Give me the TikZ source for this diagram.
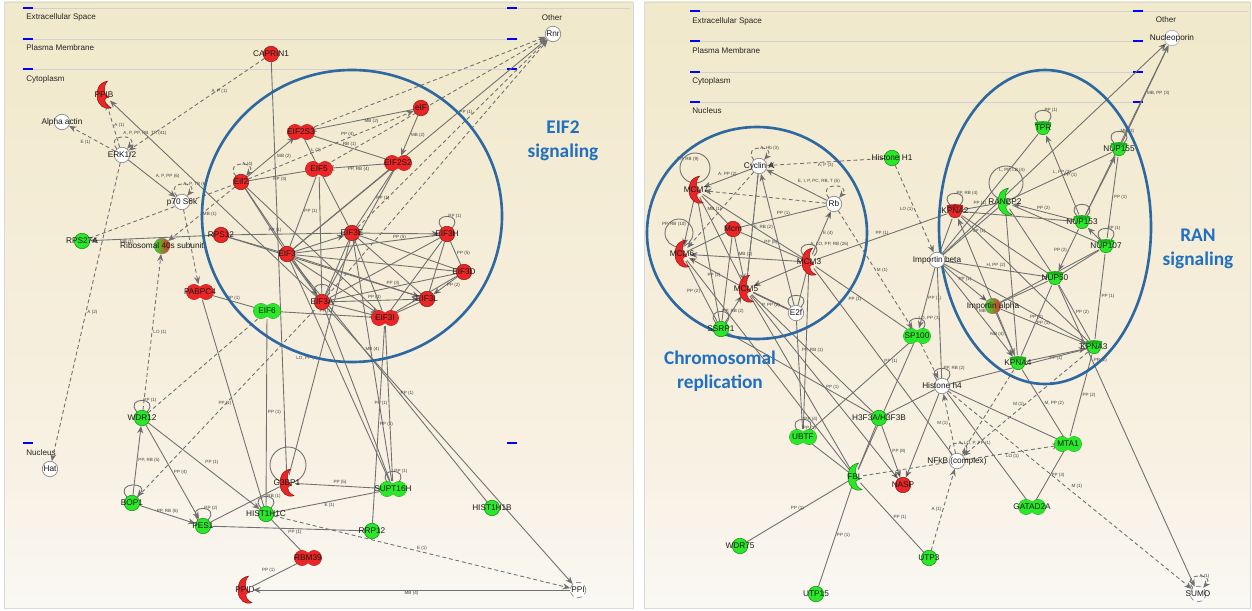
\documentclass[tikz,border=0pt]{standalone}
\usepackage{fontspec}
\setmainfont{Liberation Sans}
\newfontfamily\calib{Carlito}
\usetikzlibrary{arrows.meta}
\pgfdeclarelayer{bg}
\pgfdeclarelayer{edges}
\pgfsetlayers{bg,edges,main}

\definecolor{upred}{RGB}{236,38,38}
\definecolor{dngreen}{RGB}{40,232,40}
\definecolor{ringblue}{RGB}{46,104,160}
\definecolor{txtblue}{RGB}{33,112,192}
\definecolor{lnkgray}{RGB}{112,112,112}
\definecolor{bgtop}{RGB}{235,228,186}
\definecolor{bgmid}{RGB}{248,240,226}
\definecolor{bgbot}{RGB}{250,250,247}
\pgfdeclareverticalshading{panelbg}{100bp}{color(0bp)=(bgbot); color(22bp)=(bgbot); color(38bp)=(bgmid); color(100bp)=(bgtop)}

\tikzset{
    hub/.style={circle, minimum size=0.31cm, inner sep=0pt},
    gene/.style={hub, fill=#1, draw=#1!60!black, line width=0.3pt},
    other/.style={hub, fill=white, draw=black!45, line width=0.4pt},
    guess/.style={other, densely dashed},
    mixed/.style={hub, left color=dngreen, right color=upred, draw=black!50, line width=0.3pt},
    lab/.style={font=\fontsize{4.7}{5}\selectfont, inner sep=0pt, text=black!90},
    lnk/.style={draw=lnkgray, line width=0.5pt},
    pred/.style={lnk, dash pattern=on 2.2pt off 1.6pt},
    elab/.style={font=\fontsize{2.6}{3}\selectfont, inner sep=0.6pt, text=black!75},
    curl/.style={out=130, in=50, min distance=0.4cm},
    cmp/.style={font=\fontsize{4.6}{5}\selectfont, anchor=west, inner sep=0pt, text=black!85},
    cline/.style={draw=black!18, line width=0.5pt},
    bmark/.style={draw=blue, line width=0.9pt},
    tag/.style={font=\calib\bfseries\fontsize{11}{13.6}\selectfont, text=txtblue, align=center},
    ring/.style={draw=ringblue, line width=1.5pt},
    >={Stealth[length=4.2pt, width=3.4pt]}
}

% two-lobed molecule
\newcommand\pairnode[4]{%
    \filldraw[#4, draw=#4!60!black, line width=0.3pt, shift={(#2)}] (-6,0) circle [radius=7.5] (6,0) circle [radius=7.5];
    \fill[#4, shift={(#2)}] (-6,0) circle [radius=7.5] (6,0) circle [radius=7.5];
    \node[hub, label={[lab]center:#3}] (#1) at (#2) {};
}
% enzyme
\newcommand\enzymenode[4]{%
    \filldraw[#4, draw=#4!60!black, line width=0.3pt, shift={(#2)}, scale=1.15] (3,-12) .. controls (-5,-11) and (-7,-3) .. (-6,2)
        .. controls (-5,9) and (0,13) .. (6,11) .. controls (2,9) and (0,6) .. (1,3) -- (4,2) -- (1,-1)
        .. controls (0,-5) and (0,-9) .. (3,-12) -- cycle;
    \node[hub, label={[lab]center:#3}] (#1) at (#2) {};
}
% transporter
\newcommand\portnode[4]{%
    \filldraw[#4, draw=#4!60!black, line width=0.3pt, shift={(#2)}] (-8,-5) -- (8,-5) -- (6,3) .. controls (5,8) and (-5,8) .. (-6,3) -- cycle;
    \fill[#4!75!black, shift={(#2)}] (0,-5) ellipse [x radius=8, y radius=1.8];
    \node[hub, label={[lab]center:#3}] (#1) at (#2) {};
}

\begin{document}
\begin{tikzpicture}[x=0.02cm, y=-0.02cm]
    \useasboundingbox (0,0) rectangle (1252,611);

    % panels and compartments
    \begin{pgfonlayer}{bg}
        \shade[shading=panelbg] (4,2) rectangle (633,608);
        \shade[shading=panelbg] (644,2) rectangle (1250,608);
        \draw[black!15] (4,2) rectangle (633,608) (644,2) rectangle (1250,608);
        \draw[cline] (22,8) -- (630,8) (22,39) -- (518,39) (22,69) -- (518,69);
        \draw[cline] (690,11) -- (1248,11) (690,41) -- (1143,41) (690,72) -- (1143,72) (690,102) -- (1143,102);
        \draw[bmark] (23,8) -- (33,8) (23,39) -- (33,39) (23,69) -- (33,69) (23,443) -- (33,443);
        \draw[bmark] (507,8) -- (517,8) (507,39) -- (517,39) (507,69) -- (517,69) (507,443) -- (517,443);
        \draw[bmark] (690,11) -- (700,11) (690,41) -- (700,41) (690,72) -- (700,72) (690,102) -- (700,102);
        \draw[bmark] (1133,11) -- (1143,11) (1133,41) -- (1143,41) (1133,72) -- (1143,72) (1133,102) -- (1143,102);
        \node[cmp] (ecs1) at (26,17) {Extracellular Space};
        \node[cmp] (pm1) at (26,48) {Plasma Membrane};
        \node[cmp] (cyt1) at (26,79) {Cytoplasm};
        \node[cmp] (nuc1) at (26,453) {Nucleus};
        \node[cmp, anchor=center] (oth1) at (552,18) {Other};
        \node[cmp] (ecs2) at (692,21) {Extracellular Space};
        \node[cmp] (pm2) at (692,51) {Plasma Membrane};
        \node[cmp] (cyt2) at (692,81) {Cytoplasm};
        \node[cmp] (nuc2) at (692,111) {Nucleus};
        \node[cmp, anchor=center] (oth2) at (1166,20) {Other};
    \end{pgfonlayer}

    % highlighted groups
    \draw[ring] (352,216) ellipse [x radius=150, y radius=146];
    \draw[ring] (757,233) ellipse [x radius=110, y radius=106];
    \draw[ring] (1045,227) ellipse [x radius=106, y radius=157];
    \node[tag] (tag1) at (563,141) {EIF2\\signaling};
    \node[tag] (tag2) at (720,371) {Chromosomal\\replication};
    \node[tag] (tag3) at (1198,249) {RAN\\signaling};

    % left network
    \node[gene=upred, label={[lab]center:CAPRIN1}] (caprin) at (271,54) {};
    \enzymenode{ppib}{104,95}{PPIB}{upred}
    \node[other, label={[lab]center:Alpha actin}] (actin) at (62,122) {};
    \node[other, label={[lab]center:ERK1/2}] (erk) at (122,155) {};
    \node[other, label={[lab]center:p70 S6k}] (s6k) at (182,202) {};
    \node[gene=dngreen, label={[lab]center:RPS27A}] (rps27a) at (82,241) {};
    \node[mixed, label={[lab]center:Ribosomal 40s subunit}] (rib) at (162,246) {};
    \pairnode{pabpc4}{200,292}{PABPC4}{upred}
    \node[gene=upred, label={[lab]center:Eif2}] (eif2) at (241,182) {};
    \pairnode{eif2s3}{301,132}{EIF2S3}{upred}
    \pairnode{eif5}{319,169}{EIF5}{upred}
    \node[gene=upred, label={[lab]center:eIF}] (eif) at (421,108) {};
    \pairnode{eif2s2}{398,163}{EIF2S2}{upred}
    \node[gene=upred, label={[lab]center:RPS12}] (rps12) at (221,235) {};
    \node[gene=upred, label={[lab]center:EIF3}] (eif3) at (287,254) {};
    \node[gene=upred, label={[lab]center:EIF3E}] (eif3e) at (352,233) {};
    \node[gene=upred, label={[lab]center:EIF3H}] (eif3h) at (447,234) {};
    \node[gene=upred, label={[lab]center:EIF3D}] (eif3d) at (464,272) {};
    \node[gene=upred, label={[lab]center:EIF3A}] (eif3a) at (322,302) {};
    \node[gene=upred, label={[lab]center:EIF3L}] (eif3l) at (427,299) {};
    \pairnode{eif3i}{385,318}{EIF3I}{upred}
    \pairnode{eif6}{267,311}{EIF6}{dngreen}
    \node[gene=dngreen, label={[lab]center:WDR12}] (wdr12) at (142,418) {};
    \node[other, label={[lab]center:Hat}] (hat) at (50,469) {};
    \node[gene=dngreen, label={[lab]center:BOP1}] (bop1) at (132,503) {};
    \node[gene=dngreen, label={[lab]center:PES1}] (pes1) at (203,526) {};
    \node[gene=dngreen, label={[lab]center:HIST1H1C}] (h1c) at (266,514) {};
    \enzymenode{g3bp1}{287,483}{G3BP1}{upred}
    \pairnode{rbm39}{308,558}{RBM39}{upred}
    \enzymenode{ppid}{245,590}{PPID}{upred}
    \pairnode{supt16h}{393,489}{SUPT16H}{dngreen}
    \node[gene=dngreen, label={[lab]center:RRP12}] (rrp12) at (372,531) {};
    \node[gene=dngreen, label={[lab]center:HIST1H1B}] (h1b) at (492,508) {};
    \node[guess, label={[lab]center:PPI}] (ppi) at (578,590) {};
    \node[other, label={[lab]center:Rnr}] (rnr) at (553,34) {};

    % right network
    \node[other, label={[lab]center:Cyclin A}] (cyca) at (759,166) {};
    \enzymenode{mcm7}{696,190}{MCM7}{upred}
    \node[other, label={[lab]center:Rb}] (rb) at (834,204) {};
    \node[gene=dngreen, label={[lab]center:Histone H1}] (hh1) at (892,158) {};
    \node[gene=upred, label={[lab]center:Mcm}] (mcm) at (733,229) {};
    \enzymenode{mcm6}{682,254}{MCM6}{upred}
    \enzymenode{mcm3}{809,262}{MCM3}{upred}
    \enzymenode{mcm5}{746,289}{MCM5}{upred}
    \node[other, label={[lab]center:E2f}] (e2f) at (796,313) {};
    \node[gene=dngreen, label={[lab]center:SSRP1}] (ssrp1) at (721,329) {};
    \node[other, label={[lab]center:Importin beta}] (impb) at (937,260) {};
    \portnode{kpna2}{955,211}{KPNA2}{upred}
    \enzymenode{ranbp2}{1005,202}{RANBP2}{dngreen}
    \portnode{tpr}{1043,128}{TPR}{dngreen}
    \portnode{nup155}{1119,149}{NUP155}{dngreen}
    \portnode{nup153}{1082,222}{NUP153}{dngreen}
    \portnode{nup107}{1106,246}{NUP107}{dngreen}
    \portnode{nup50}{1055,278}{NUP50}{dngreen}
    \node[mixed, label={[lab]center:Importin alpha}] (impa) at (993,306) {};
    \portnode{kpna3}{1094,347}{KPNA3}{dngreen}
    \portnode{kpna4}{1018,363}{KPNA4}{dngreen}
    \pairnode{sp100}{917,336}{SP100}{dngreen}
    \node[other, label={[lab]center:Histone h4}] (hh4) at (942,386) {};
    \node[gene=dngreen, label={[lab]center:H3F3A/H3F3B}] (h3f3) at (879,418) {};
    \pairnode{ubtf}{803,437}{UBTF}{dngreen}
    \enzymenode{fbl}{855,477}{FBL}{dngreen}
    \node[gene=upred, label={[lab]center:NASP}] (nasp) at (903,485) {};
    \node[other, label={[lab]center:NFkB (complex)}] (nfkb) at (957,461) {};
    \pairnode{mta1}{1068,444}{MTA1}{dngreen}
    \pairnode{gatad2a}{1032,507}{GATAD2A}{dngreen}
    \node[gene=dngreen, label={[lab]center:WDR75}] (wdr75) at (740,546) {};
    \node[gene=dngreen, label={[lab]center:UTP15}] (utp15) at (816,594) {};
    \node[gene=dngreen, label={[lab]center:UTP3}] (utp3) at (929,558) {};
    \node[guess, label={[lab]center:SUMO}] (sumo) at (1198,594) {};
    \node[other, draw=black!30, label={[lab]center:Nucleoporin}] (nucp) at (1172,38) {};

    \begin{pgfonlayer}{edges}
    % left: around the ring
    \draw[pred,->] (caprin) -- node[elab,pos=.4,above right]{A, P (1)} (erk);
    \draw[pred,->] (erk) -- node[elab,below left]{E (1)} (actin);
    \draw[pred,->] (erk) -- node[elab,right]{A (1)} (ppib);
    \draw[pred,->] (erk) -- node[elab,pos=.5,right]{A (2)} (hat);
    \draw[pred,->] (erk) to[curl] node[elab,above right]{A, P, PP, RB, TR (41)} (erk);
    \draw[lnk,->] (erk) -- node[elab,pos=.55,above right]{A, P, PP (6)} (s6k);
    \draw[pred,->] (s6k) to[curl] node[elab,right]{A, P, TR (6)} (s6k);
    \draw[pred,->] (s6k) -- (pabpc4);
    \draw[pred] (rps27a) -- (eif2);
    \draw[pred,->] (eif2) -- node[elab,right]{MB (1)} (rib);
    \draw[lnk,->] (rps12) -- node[elab,pos=.7,below]{MB (1)} (rps27a);
    \draw[lnk,->] (eif3a) -- (ppib);
    \draw[pred,->] (wdr12) -- node[elab,right]{LO (1)} (rib);
    \draw[pred] (wdr12) -- (eif6);
    \draw[pred] (bop1) -- (eif3a);

    % left: EIF2 and EIF3 complexes
    \draw[lnk,->] (eif) -- node[elab,pos=.4,below]{MB (2)} (eif2s3);
    \draw[lnk,->] (eif) -- node[elab,right]{MB (2)} (eif2s2);
    \draw[lnk,->] (eif2) -- node[elab,pos=.6,below right]{MB (2)} (eif2s3);
    \draw[lnk] (eif2) -- node[elab,below]{PP (3)} (eif5);
    \draw[pred,->] (eif2) to[curl] node[elab,right]{A (4)} (eif2);
    \draw[lnk] (eif2s3) -- node[elab,above]{RB (1)} (eif2s2);
    \draw[lnk] (eif2s3) -- node[elab,right]{L (1)} (eif5);
    \draw[lnk,->] (eif2s2) -- node[elab,below]{PP, RB (4)} (eif5);
    \draw[pred,->] (eif2) -- node[elab,pos=.6,above]{PP (4)} (eif);
    \draw[pred,->] (eif2s3) -- (rnr);
    \draw[pred,->] (eif5) -- (rnr);
    \draw[pred,->] (eif3e) -- (rnr);
    \draw[pred,->] (eif3a) -- (rnr);
    \draw[lnk,->] (eif3) -- node[elab,pos=.65,right]{PP (1)} (rnr);
    \draw[lnk] (eif2) edge (eif3) edge (eif3a) edge (eif3i);
    \draw[lnk] (eif5) edge node[elab,right]{PP (1)} (eif3) edge (eif3e) edge (eif3a);
    \draw[lnk] (eif2s2) edge (eif3a) edge (eif3) edge node[elab,right]{PP (1)} (eif3e);
    \draw[lnk] (caprin) -- (g3bp1);
    \draw[lnk] (rps12) edge node[elab,above,pos=.4]{PP (1)} (eif3e) edge (eif3) edge (eif3l);
    \draw[lnk] (eif3) edge[->] (eif3e) edge (eif3h) edge (eif3d) edge[->] (eif3a) edge[->] (eif3l) edge[->] (eif3i);
    \draw[lnk] (eif3e) edge[->] node[elab,below]{PP (5)} (eif3h) edge (eif3d) edge (eif3l) edge (eif3i) edge (eif3a);
    \draw[lnk] (eif3h) edge node[elab,right]{PP (5)} (eif3d) edge (eif3l) edge (eif3a) edge (eif3i);
    \draw[lnk] (eif3h) to[curl] node[elab,right]{PP (1)} (eif3h);
    \draw[lnk] (eif3d) edge[->] node[elab,right]{PP (2)} (eif3l) edge node[elab,above]{PP (3)} (eif3a) edge (eif3i);
    \draw[lnk] (eif3a) edge[->] node[elab,above]{PP (3)} (eif3l) edge[->] (eif3i);
    \draw[lnk] (eif3a) to[curl] (eif3a);
    \draw[lnk] (eif3l) -- (eif3i);
    \draw[lnk] (pabpc4) edge node[elab,above]{PP (1)} (eif6) edge node[elab,left]{PP (1)} (h1c);
    \draw[lnk] (eif6) edge node[elab,above]{PP (1)} (eif3i) edge node[elab,right]{PP (1)} (h1c);

    % left: nucleolar proteins
    \draw[lnk,->] (bop1) -- node[elab,right]{PP, RB (5)} (wdr12);
    \draw[lnk,->] (wdr12) -- node[elab,right]{PP (4)} (pes1);
    \draw[lnk,->] (wdr12) -- node[elab,above right]{PP (1)} (h1c);
    \draw[lnk,->] (bop1) -- node[elab,above]{PP, RB (6)} (pes1);
    \draw[lnk] (wdr12) to[curl] node[elab,right]{PP (1)} (wdr12);
    \draw[lnk,->] (bop1) to[curl] (bop1);
    \draw[lnk] (pes1) to[curl] node[elab,right]{PP (2)} (pes1);
    \draw[lnk] (h1c) to[curl] node[elab,right]{RB (1)} (h1c);
    \draw[lnk] (supt16h) to[curl] node[elab,right]{PP (1)} (supt16h);
    \draw[lnk] (g3bp1.center) ++(1,-18) circle [radius=18];
    \draw[lnk] (pes1) edge (g3bp1) edge (rrp12);
    \draw[lnk] (g3bp1) edge node[elab,above]{PP (5)} (supt16h) edge node[elab,left]{LO, PP (3)} (eif3e);
    \draw[lnk] (h1c) edge node[elab,below]{E (1)} (supt16h) edge node[elab,above right]{PP (1)} (rbm39);
    \draw[pred,->] (h1c) -- node[elab,above]{E (1)} (ppi);
    \draw[lnk] (rbm39) -- node[elab,above left]{PP (1)} (ppid);
    \draw[lnk,->] (ppi) -- node[elab,below]{MB (4)} (ppid);
    \draw[lnk,->] (eif3a) -- node[elab,pos=.15,right]{MB (4)} (ppi);
    \draw[lnk] (eif3) -- node[elab,pos=.55,right]{PP (1)} (h1b);
    \draw[lnk] (supt16h) edge node[elab,left]{PP (1)} (eif3i) edge (eif3a) edge (eif3e) edge (eif3);
    \draw[lnk] (rrp12) -- node[elab,right]{PP (1)} (eif3i);

    % right: chromosomal replication
    \draw[pred,->] (hh1) -- node[elab,below]{A, P (3)} (cyca);
    \draw[pred,->] (hh1) -- node[elab,left]{LO (1)} (impb);
    \draw[pred,->] (rb) -- (mcm7);
    \draw[pred,->] (cyca) -- (mcm6);
    \draw[pred] (cyca) -- node[elab,right]{E, RB (2)} (mcm5);
    \draw[pred,->] (cyca) to[curl] node[elab,right]{A, Hb (3)} (cyca);
    \draw[pred,->] (rb) to[curl] (rb);
    \draw[lnk,->] (rb) -- node[elab,above right]{E, I, P, PC, RB, T (6)} (cyca);
    \draw[lnk,->] (cyca) -- node[elab,above]{A, PP (2)} (mcm7);
    \draw[lnk,->] (e2f) -- (cyca);
    \draw[lnk] (mcm5) -- (cyca);
    \draw[lnk] (mcm7.center) ++(-1,-22) circle [radius=15];
    \node[elab] (mcm7l) at (688,159) {PP, RB (9)};
    \draw[lnk] (mcm6.center) ++(-3,-21) circle [radius=14];
    \node[elab] (mcm6l) at (674,224) {PP, RB (10)};
    \draw[lnk] (mcm) edge node[elab]{MB (1)} (mcm7) edge (mcm6) edge node[elab,above]{PP (8)} (mcm3) edge[->] (mcm5) edge node[elab,above]{PP (1)} (rb) edge (ssrp1);
    \draw[lnk] (mcm7) edge[->] (mcm6) edge (mcm3) edge (mcm5) edge (ssrp1);
    \draw[lnk] (mcm3) edge[->] node[elab,above]{MB (2)} (mcm6) edge[->] (mcm5) edge (e2f) edge[->] node[elab,right]{E (4)} (rb);
    \draw[lnk] (mcm3) to[curl] node[elab,right]{A, LO, PP, RB (26)} (mcm3);
    \draw[lnk] (mcm5) edge[->] node[elab,below]{PP (2)} (mcm6) edge[line width=0.9pt] node[elab,below]{P, PP (2)} (e2f);
    \draw[lnk] (ssrp1) edge[->] (mcm5) edge node[elab,left]{PP (2)} (mcm6);
    \draw[lnk] (ssrp1) to[curl] node[elab,right]{PP, RB (2)} (ssrp1);
    \draw[lnk] (e2f) to[curl] (e2f);
    \draw[lnk] (mcm3) edge node[elab,above]{PP (1)} (kpna2) edge node[elab,left]{PP (1)} (sp100) edge node[elab,right]{PP (1)} (nfkb) edge (ubtf);
    \draw[lnk] (e2f) -- (ubtf);
    \draw[lnk] (mcm5) edge node[elab,above]{PP, RB (1)} (h3f3) edge[->] node[elab,right]{PP (1)} (nasp) edge (fbl);
    \draw[lnk] (ssrp1) -- (h3f3);
    \draw[lnk] (mcm6) -- node[elab,pos=.8,left]{PP (1)} (fbl);

    % right: nucleus and nuclear pore
    \draw[pred,->] (rb) -- node[elab,right]{M (1)} (sp100);
    \draw[pred,->] (sp100) -- (hh4);
    \draw[pred,->] (nfkb) -- node[elab,left]{M (1)} (hh4);
    \draw[pred] (fbl) -- (nfkb);
    \draw[pred,->] (nfkb) -- node[elab,below]{LO (1)} (mta1);
    \draw[pred,->] (utp3) -- node[elab,left]{A (1)} (nfkb);
    \draw[pred] (kpna4) -- (nfkb);
    \draw[pred,->] (kpna3) -- node[elab,left]{M (1)} (nfkb);
    \draw[pred,->] (nfkb) to[curl] node[elab,right]{A, LO, P, PP (1)} (nfkb);
    \draw[pred,->] (hh4) -- node[elab,above right]{M (1)} (sumo);
    \draw[pred,->] (sumo) to[curl] node[elab,right]{A (1)} (sumo);
    \draw[lnk] (ubtf) edge (fbl) edge (sp100);
    \draw[lnk] (ubtf) to[curl] node[elab,right]{PP (4)} (ubtf);
    \draw[lnk] (sp100) -- (fbl);
    \draw[lnk] (sp100) to[curl] node[elab,right]{LO, PP (3)} (sp100);
    \draw[lnk,->] (impb) -- node[elab,right]{PP (1)} (sp100);
    \draw[lnk] (impb) -- (hh4);
    \draw[lnk] (impb) edge (kpna2) edge node[elab,right]{SP (1)} (ranbp2) edge[->] node[elab,above]{PP (1)} (impa) edge node[elab,above]{H, PP (2)} (nup50) edge[->] node[elab,right]{MB (4)} (kpna4) edge (kpna3) edge (tpr) edge[->] (nucp);
    \draw[lnk] (kpna2) edge node[elab,above]{PP (1)} (ranbp2) edge (nup153) edge (kpna3) edge (nup50);
    \draw[lnk] (kpna2) to[curl] node[elab,right]{PP, RB (4)} (kpna2);
    \draw[lnk,->] (kpna4) -- (kpna2);
    \draw[lnk] (ranbp2.center) ++(1,-19) circle [radius=17];
    \node[elab] (ranbp2l) at (1012,170) {L, PP, LB (4)};
    \draw[lnk] (ranbp2) edge node[elab,above]{L, PP (2)} (nup155) edge (nup50) edge (kpna4) edge (nup107);
    \draw[lnk,->] (nup153) -- node[elab,above]{PP (2)} (ranbp2);
    \draw[lnk,->] (nup153) -- node[elab,right]{PP (1)} (tpr);
    \draw[lnk,->] (nup153) -- (nup155);
    \draw[lnk,->] (nup155) -- node[elab,right]{MB, PP (3)} (nucp);
    \draw[lnk,->] (nup153) -- (nucp);
    \draw[lnk] (tpr) to[curl] node[elab,right]{PP (1)} (tpr);
    \draw[lnk] (nup155) to[curl] node[elab,right]{MB (3)} (nup155);
    \draw[lnk] (nup153) to[curl] (nup153);
    \draw[lnk] (nup107) to[curl] node[elab,right]{PP (1)} (nup107);
    \draw[lnk] (nup155) -- node[elab,right]{PP (1)} (nup107);
    \draw[lnk,->] (nup153) -- node[elab,left]{PP (2)} (nup50);
    \draw[lnk,->] (nup107) -- (nup153);
    \draw[lnk] (nup107) edge (nup50) edge node[elab,right]{PP (1)} (kpna3) edge (impa);
    \draw[lnk] (nup50) edge node[elab,above]{PP (1)} (kpna4) edge node[elab,right]{PP (2)} (kpna3) edge (impa);
    \draw[lnk,->] (impa) -- node[elab,left]{MB (4)} (kpna4);
    \draw[lnk,->] (impa) -- node[elab,above]{PP (1)} (kpna3);
    \draw[lnk,->] (kpna4) -- node[elab,below]{PP (1)} (kpna3);
    \draw[lnk] (hh4) edge (kpna3) edge (mta1) edge (gatad2a) edge (h3f3) edge[->] (nasp);
    \draw[lnk] (hh4) to[curl] node[elab,right]{PP, RB (2)} (hh4);
    \draw[lnk] (kpna4) -- node[elab,right]{M, PP (2)} (mta1);
    \draw[lnk] (kpna3) -- node[elab,right]{PP (2)} (mta1);
    \draw[lnk] (mta1) -- node[elab,right]{PP (3)} (gatad2a);
    \draw[lnk,->] (nup50) -- node[elab,pos=.25,right]{PP (2)} (sumo);
    \draw[lnk] (h3f3) edge (fbl) edge[->] node[elab,right]{PP (8)} (nasp);
    \draw[lnk] (fbl) edge node[elab,above]{PP (1)} (wdr75) edge node[elab,right]{PP (1)} (utp15) edge node[elab,right]{PP (1)} (utp3);
    \end{pgfonlayer}
\end{tikzpicture}
\end{document}
